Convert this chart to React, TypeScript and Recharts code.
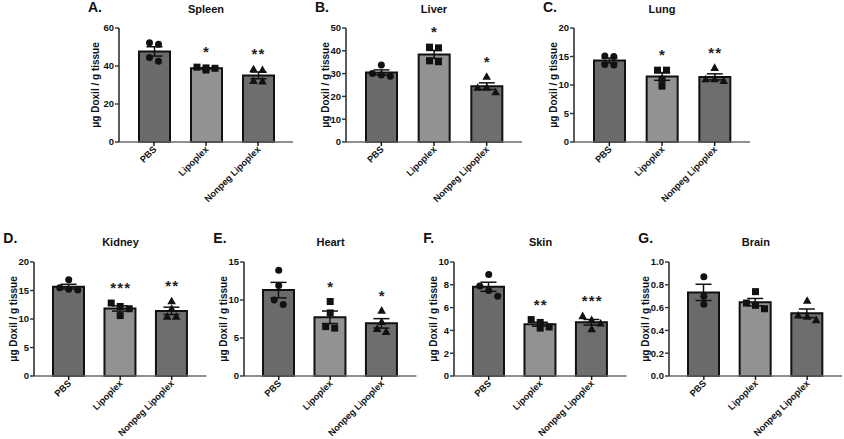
import React from "react";
import { Bar, Cell, ComposedChart, ErrorBar, Label, Line, XAxis, YAxis } from "recharts";

// Doxil biodistribution, 7 tissues, mean ± SEM with individual animals.
const GROUPS = ["PBS", "Lipoplex", "Nonpeg Lipoplex"];

const spleenPbs = [51.5, 52.2, 42.5, 44.5];
const spleenLipo = [39.4, 37.9, 39.0, 38.8];
const spleenNonpeg = [37.9, 38.3, 32.1, 31.9];
const spleenSig = ["", "*", "**"];
const spleenTicks = [0, 20, 40, 60];

const liverPbs = [33.8, 29.4, 28.8, 30.0];
const liverLipo = [41.6, 41.3, 35.6, 35.2];
const liverNonpeg = [28.6, 23.8, 23.8, 21.8];
const liverSig = ["", "*", "*"];
const liverTicks = [0, 10, 20, 30, 40, 50];

const lungPbs = [15.1, 15.0, 13.6, 13.5];
const lungLipo = [12.6, 12.6, 11.0, 9.8];
const lungNonpeg = [13.0, 11.0, 10.7, 11.0];
const lungSig = ["", "*", "**"];
const lungTicks = [0, 5, 10, 15, 20];

const kidneyPbs = [16.9, 15.1, 15.5, 15.2];
const kidneyLipo = [12.8, 11.8, 12.2, 10.6];
const kidneyNonpeg = [13.1, 10.4, 10.4, 11.8];
const kidneySig = ["", "***", "**"];
const kidneyTicks = [0, 5, 10, 15, 20];

const heartPbs = [13.9, 11.9, 9.4, 10.0];
const heartLipo = [9.8, 8.3, 6.3, 6.5];
const heartNonpeg = [8.6, 7.1, 5.8, 6.2];
const heartSig = ["", "*", "*"];
const heartTicks = [0, 5, 10, 15];

const skinPbs = [8.9, 7.9, 7.5, 7.0];
const skinLipo = [4.95, 4.2, 4.7, 4.3];
const skinNonpeg = [5.25, 4.9, 4.1, 4.6];
const skinSig = ["", "**", "***"];
const skinTicks = [0, 2, 4, 6, 8, 10];

const brainPbs = [0.87, 0.7, 0.63];
const brainLipo = [0.74, 0.62, 0.59, 0.64];
const brainNonpeg = [0.66, 0.53, 0.49, 0.52];
const brainSig = ["", "", ""];
const brainTicks = [0, 0.2, 0.4, 0.6, 0.8, 1.0];

const FONT = "'Liberation Sans', Arial, Helvetica, sans-serif";
const BAR_FILL = ["#6b6b6b", "#929292", "#6e6e6e"];
const INK = "#111";
const Y_LABEL = "μg Doxil / g tissue";
const STEP = 9; // horizontal spacing of overlapping symbols

const panels = [
  { letter: "A.", title: "Spleen", sets: [spleenPbs, spleenLipo, spleenNonpeg], sig: spleenSig, ticks: spleenTicks, x: 119, y: 28.3, w: 174, labelDx: -24 },
  { letter: "B.", title: "Liver", sets: [liverPbs, liverLipo, liverNonpeg], sig: liverSig, ticks: liverTicks, x: 346, y: 28.3, w: 176, labelDx: -20.5 },
  { letter: "C.", title: "Lung", sets: [lungPbs, lungLipo, lungNonpeg], sig: lungSig, ticks: lungTicks, x: 574, y: 28.3, w: 176, labelDx: -20.5 },
  { letter: "D.", title: "Kidney", sets: [kidneyPbs, kidneyLipo, kidneyNonpeg], sig: kidneySig, ticks: kidneyTicks, x: 34.3, y: 261.7, w: 172.4, labelDx: -20.5 },
  { letter: "E.", title: "Heart", sets: [heartPbs, heartLipo, heartNonpeg], sig: heartSig, ticks: heartTicks, x: 244.3, y: 261.7, w: 172.4, labelDx: -20.5 },
  { letter: "F.", title: "Skin", sets: [skinPbs, skinLipo, skinNonpeg], sig: skinSig, ticks: skinTicks, x: 454.3, y: 261.7, w: 172.4, labelDx: -20.5 },
  { letter: "G.", title: "Brain", sets: [brainPbs, brainLipo, brainNonpeg], sig: brainSig, ticks: brainTicks, x: 669.3, y: 261.7, w: 173, labelDx: -24, decimals: 1 },
];

const mean = (a: number[]) => a.reduce((s, v) => s + v, 0) / a.length;
const sem = (a: number[]) => {
  const m = mean(a);
  const sd = Math.sqrt(a.reduce((s, v) => s + (v - m) ** 2, 0) / (a.length - 1));
  return sd / Math.sqrt(a.length);
};

// spread points that would overlap side by side (rows of max 3), like prism does
function spread(vals: number[], yMax: number) {
  const order = vals.map((v, i) => ({ v, i })).sort((a, b) => b.v - a.v);
  const thr = yMax * 0.058;
  const offs = vals.map(() => 0);
  let cluster: { v: number; i: number }[] = [];
  const flush = () => {
    for (let s = 0; s < cluster.length; s += 3) {
      const row = cluster.slice(s, s + 3);
      row.forEach((it, k) => (offs[it.i] = (k - (row.length - 1) / 2) * STEP));
    }
    cluster = [];
  };
  order.forEach((it) => {
    if (cluster.length && cluster[cluster.length - 1].v - it.v > thr) flush();
    cluster.push(it);
  });
  flush();
  return offs;
}

function buildRows(p: (typeof panels)[number]) {
  const yMax = p.ticks[p.ticks.length - 1];
  return GROUPS.map((name, gi) => {
    const vals = p.sets[gi];
    const offs = spread(vals, yMax);
    const row: any = { name, mean: mean(vals), sem: sem(vals), sig: p.sig[gi] };
    for (let k = 0; k < 4; k++) {
      row[`p${k}`] = vals[k] ?? null;
      row[`o${k}`] = offs[k] ?? 0;
    }
    row.top = p.sig[gi] ? Math.max(...vals, row.mean + row.sem) : null;
    return row;
  });
}

const makeDot = (k: number) => (props: any) => {
  const { cx, cy, payload, index } = props;
  const key = `d${k}-${index}`;
  if (cx == null || cy == null || payload[`p${k}`] == null) return <g key={key} />;
  const x = cx + payload[`o${k}`];
  if (index === 0) return <circle key={key} cx={x} cy={cy} r={3.5} fill={INK} />;
  if (index === 1) return <rect key={key} x={x - 3.5} y={cy - 3.5} width={7} height={7} fill={INK} />;
  return <polygon key={key} points={`${x},${cy - 4.6} ${x - 4.3},${cy + 3} ${x + 4.3},${cy + 3}`} fill={INK} />;
};

const starDot = (props: any) => {
  const { cx, cy, payload, index } = props;
  if (cx == null || cy == null || !payload.sig) return <g key={`s-${index}`} />;
  return (
    <text key={`s-${index}`} x={cx} y={cy - 10} textAnchor="middle" fontSize={15} fontWeight={700} fontFamily={FONT} fill="#222">
      {payload.sig.split("").join("\u200a")}
    </text>
  );
};

const XTick = (props: any) => {
  const { x, y, payload } = props;
  return (
    <g transform={`translate(${x + 3},${y + 3})`}>
      <text x={0} y={0} textAnchor="end" transform="rotate(-45)" fontSize={9.2} fontWeight={700} fontFamily={FONT} fill={INK}>
        {payload.value}
      </text>
    </g>
  );
};

const PLOT_H = 114;
const TOP_PAD = 28;
const X_AXIS_H = 63;
const Y_AXIS_W = 60;

function Panel({ p }: { p: (typeof panels)[number] }) {
  const rows = buildRows(p);
  const yMax = p.ticks[p.ticks.length - 1];
  const fmt = (v: number) => (p.decimals ? v.toFixed(p.decimals) : `${v}`);
  return (
    <div style={{ position: "absolute", left: p.x - Y_AXIS_W, top: p.y - TOP_PAD }}>
      <ComposedChart
        width={Y_AXIS_W + p.w + 6}
        height={TOP_PAD + PLOT_H + X_AXIS_H}
        data={rows}
        margin={{ top: TOP_PAD, right: 6, left: 0, bottom: 0 }}
      >
        <XAxis
          dataKey="name"
          type="category"
          interval={0}
          padding={{ left: 9, right: 9 }}
          height={X_AXIS_H}
          tickSize={4}
          tickMargin={1}
          tick={<XTick />}
          axisLine={{ stroke: "#6a6a6a", strokeWidth: 1.6 }}
          tickLine={{ stroke: INK, strokeWidth: 1.4 }}
        />
        <YAxis
          type="number"
          domain={[0, yMax]}
          ticks={p.ticks}
          interval={0}
          width={Y_AXIS_W}
          tickSize={4}
          tickMargin={1}
          tickFormatter={fmt}
          tick={{ fontSize: 9.5, fontWeight: 700, fill: INK, fontFamily: FONT }}
          axisLine={{ stroke: "#333", strokeWidth: 1.6 }}
          tickLine={{ stroke: "#333", strokeWidth: 1.4 }}
        >
          <Label
            value={Y_LABEL}
            angle={-90}
            position="insideLeft"
            offset={Y_AXIS_W + p.labelDx}
            style={{ textAnchor: "middle", fontSize: 10, fontWeight: 700, fill: INK, fontFamily: FONT }}
          />
        </YAxis>
        <Bar dataKey="mean" barSize={31} stroke={INK} strokeWidth={2} isAnimationActive={false}>
          {rows.map((r, i) => (
            <Cell key={r.name} fill={BAR_FILL[i]} />
          ))}
          <ErrorBar dataKey="sem" direction="y" width={8} stroke={INK} strokeWidth={1.5} />
        </Bar>
        {[0, 1, 2, 3].map((k) => (
          <Line
            key={k}
            dataKey={`p${k}`}
            stroke="none"
            dot={makeDot(k)}
            activeDot={false}
            legendType="none"
            isAnimationActive={false}
          />
        ))}
        <Line dataKey="top" stroke="none" dot={starDot} activeDot={false} legendType="none" isAnimationActive={false} />
      </ComposedChart>
    </div>
  );
}

export default function App() {
  return (
    <div style={{ position: "relative", width: 844, height: 439, background: "#fff", overflow: "hidden", fontFamily: FONT }}>
      <style>{"body{margin:0}"}</style>
      {panels.map((p) => (
        <Panel key={p.title} p={p} />
      ))}
      {panels.map((p) => (
        <React.Fragment key={`t-${p.title}`}>
          <div
            style={{
              position: "absolute",
              left: p.x - 31,
              top: p.y < 100 ? 0 : 230.5,
              fontSize: 14,
              lineHeight: "14px",
              fontWeight: 700,
              color: INK,
            }}
          >
            {p.letter}
          </div>
          <div
            style={{
              position: "absolute",
              left: p.x + p.w / 2,
              top: p.y < 100 ? 3.5 : 237,
              transform: "translateX(-50%)",
              fontSize: 11,
              lineHeight: "11px",
              fontWeight: 700,
              color: INK,
              whiteSpace: "nowrap",
            }}
          >
            {p.title}
          </div>
        </React.Fragment>
      ))}
    </div>
  );
}
